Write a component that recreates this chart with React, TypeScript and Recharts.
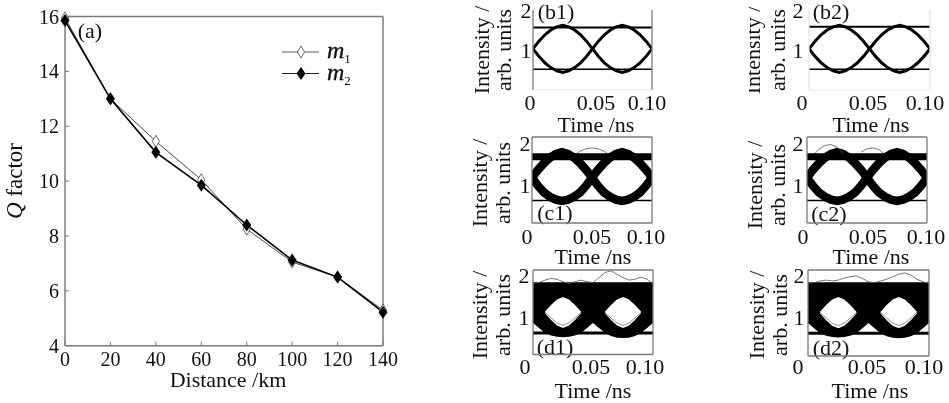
import { ComposedChart, LineChart, Line, Area, XAxis, YAxis, Legend, ReferenceLine } from 'recharts'

const SERIF = '"Liberation Serif", "Times New Roman", serif'
const INK = '#111'
const FRAME = '#7a7a7a'

// panel (a): Q factor against distance
const DISTANCE = [0, 20, 40, 60, 80, 100, 120, 140]
const M1 = [15.95, 13.0, 11.45, 10.05, 8.25, 7.05, 6.5, 5.3]
const M2 = [15.85, 13.0, 11.05, 9.85, 8.4, 7.12, 6.5, 5.22]
const Q_TICKS = [4, 6, 8, 10, 12, 14, 16]

// eye diagrams, all sampled on this time grid
const TIME = [0, 0.005, 0.01, 0.015, 0.02, 0.025, 0.03, 0.035, 0.04, 0.045, 0.05, 0.055, 0.06, 0.065, 0.07, 0.075, 0.08, 0.085, 0.09, 0.095, 0.1]
const TIME_TICKS = [0, 0.05, 0.1]
const TIME_LABELS = ['0', '0.05', '0.10']

const B_UPPER = [1.03, 1.22, 1.38, 1.5, 1.58, 1.62, 1.58, 1.5, 1.38, 1.22, 1.03, 1.22, 1.38, 1.5, 1.58, 1.62, 1.58, 1.5, 1.38, 1.22, 1.03]
const B_LOWER = [1.03, 0.84, 0.68, 0.56, 0.48, 0.44, 0.48, 0.56, 0.68, 0.84, 1.03, 0.84, 0.68, 0.56, 0.48, 0.44, 0.48, 0.56, 0.68, 0.84, 1.03]

const C_UPPER = [1.17, 1.36, 1.52, 1.65, 1.74, 1.78, 1.74, 1.65, 1.52, 1.36, 1.17, 1.36, 1.52, 1.65, 1.74, 1.78, 1.74, 1.65, 1.52, 1.36, 1.17]
const C_LOWER = [1.17, 0.98, 0.82, 0.72, 0.65, 0.62, 0.65, 0.72, 0.82, 0.98, 1.17, 0.98, 0.82, 0.72, 0.65, 0.62, 0.65, 0.72, 0.82, 0.98, 1.17]
const C1_STRAY = [null, null, null, null, null, null, null, 1.7, 1.8, 1.86, 1.88, 1.86, 1.8, 1.7, null, null, null, null, null, null, null]
const C2_STRAY = [null, 1.7, 1.85, 1.94, 1.96, 1.9, 1.75, null, null, 1.78, 1.86, 1.88, 1.84, 1.72, null, null, null, null, null, null, null]

const D_TOP = [1.83, 1.83, 1.83, 1.83, 1.83, 1.83, 1.83, 1.83, 1.83, 1.83, 1.83, 1.83, 1.83, 1.83, 1.83, 1.83, 1.83, 1.83, 1.83, 1.83, 1.83]
const D_BOTTOM = [0.86, 0.74, 0.62, 0.56, 0.53, 0.52, 0.53, 0.56, 0.62, 0.74, 0.86, 0.74, 0.62, 0.55, 0.51, 0.5, 0.51, 0.55, 0.62, 0.74, 0.86]
const HOLE_TOP = [null, null, 1.13, 1.29, 1.42, 1.48, 1.42, 1.29, 1.13, null, null, null, 1.13, 1.29, 1.42, 1.48, 1.42, 1.29, 1.13, null, null]
const HOLE_BOTTOM = [null, null, 1.09, 0.93, 0.8, 0.74, 0.8, 0.93, 1.09, null, null, null, 1.09, 0.93, 0.8, 0.74, 0.8, 0.93, 1.09, null, null]
const HOLE_TRACE = [null, null, 1.11, 0.98, 0.86, 0.8, 0.86, 0.98, 1.11, null, null, null, 1.11, 0.98, 0.86, 0.8, 0.86, 0.98, 1.11, null, null]
const D1_STRAY = [1.8, 1.82, 1.88, 1.92, 1.9, 1.84, 1.8, 1.84, 1.88, 1.84, 1.82, 1.94, 2.06, 2.1, 2.02, 1.94, 1.88, 1.9, 1.95, 1.9, 1.8]
const D2_STRAY = [1.8, 1.82, 1.86, 1.88, 1.86, 1.88, 1.93, 1.96, 1.98, 1.92, 1.84, 1.82, 1.86, 1.9, 1.96, 2.02, 2.05, 2.0, 1.9, 1.84, 1.8]

type Box = { x: number; y: number; w: number; h: number }
type Eye = {
  tag: string
  plot: Box
  domain: number[]
  upper?: (number | null)[]
  lower?: (number | null)[]
  trace: number
  rails: number[][]
  stray?: (number | null)[]
  filled?: boolean
  sideColor: string
  bottomColor: string
  topColor?: string
  tagAt: number[]
  tickDx: number[]
  tickY: number
  yTickX: number
  titleAt: number[]
  yTextX: number[]
  yTextMid: number
}

const PANELS: Eye[] = [
  { tag: '(b1)', plot: { x: 533, y: 10, w: 119, h: 80 }, domain: [0, 2], upper: B_UPPER, lower: B_LOWER, trace: 3, rails: [[1.56, 2], [0.52, 1.6]], sideColor: FRAME, bottomColor: '#eeeeee', tagAt: [556, 12], tickDx: [-3, 3.5, -5], tickY: 103, yTickX: 526, titleAt: [596, 125], yTextX: [482, 504], yTextMid: 50 },
  { tag: '(b2)', plot: { x: 809, y: 10, w: 121, h: 80 }, domain: [0, 2], upper: B_UPPER, lower: B_LOWER, trace: 3, rails: [[1.58, 2], [0.52, 1.6]], sideColor: '#e4e4e4', bottomColor: '#f2f2f2', tagAt: [831, 12], tickDx: [-7, -1.5, -5], tickY: 103, yTickX: 798, titleAt: [871, 125], yTextX: [753, 778], yTextMid: 50 },
  { tag: '(c1)', plot: { x: 532, y: 137, w: 120, h: 86 }, domain: [0.095, 2.14], upper: C_UPPER, lower: C_LOWER, trace: 8.5, rails: [[1.67, 7], [0.63, 1.6]], stray: C1_STRAY, sideColor: FRAME, bottomColor: FRAME, topColor: FRAME, tagAt: [555, 213], tickDx: [-5, 0, -6], tickY: 237, yTickX: 525, titleAt: [593, 257], yTextX: [480, 503], yTextMid: 183 },
  { tag: '(c2)', plot: { x: 807, y: 137, w: 120, h: 86 }, domain: [0.095, 2.14], upper: C_UPPER, lower: C_LOWER, trace: 8.5, rails: [[1.67, 7], [0.63, 1.6]], stray: C2_STRAY, sideColor: FRAME, bottomColor: FRAME, topColor: FRAME, tagAt: [829, 214], tickDx: [-4, 1, -1], tickY: 237, yTickX: 798, titleAt: [871, 257], yTextX: [755, 778], yTextMid: 185 },
  { tag: '(d1)', plot: { x: 533, y: 270, w: 120, h: 84.5 }, domain: [0.11, 2.12], trace: 1, rails: [[0.62, 3]], stray: D1_STRAY, filled: true, sideColor: FRAME, bottomColor: FRAME, topColor: FRAME, tagAt: [555, 347], tickDx: [-8, -2, -8], tickY: 367, yTickX: 524, titleAt: [593, 391], yTextX: [480, 503], yTextMid: 315 },
  { tag: '(d2)', plot: { x: 808, y: 270, w: 121, h: 86 }, domain: [0.08, 2.12], trace: 1, rails: [[0.62, 3]], stray: D2_STRAY, filled: true, sideColor: FRAME, bottomColor: FRAME, topColor: FRAME, tagAt: [831, 348], tickDx: [-10, -1.5, -5], tickY: 367, yTickX: 799, titleAt: [870, 391], yTextX: [757, 780], yTextMid: 315 },
]

const qData = DISTANCE.map((d, i) => ({ d, m1: M1[i], m2: M2[i] }))

function hollowDiamond(p: any) {
  const { cx, cy } = p
  return <path key={p.index} d={`M${cx} ${cy - 6}L${cx + 3.6} ${cy}L${cx} ${cy + 6}L${cx - 3.6} ${cy}Z`} fill="#fff" stroke="#444" strokeWidth={0.8} />
}

function solidDiamond(p: any) {
  const { cx, cy } = p
  return <path key={p.index} d={`M${cx} ${cy - 6.5}L${cx + 4.5} ${cy}L${cx} ${cy + 6.5}L${cx - 4.5} ${cy}Z`} fill="#000" />
}

function QLegend() {
  const rows = [
    { sub: '1', marker: hollowDiamond, line: '#333', lw: 0.8 },
    { sub: '2', marker: solidDiamond, line: '#222', lw: 1.2 },
  ]
  return (
    <svg width={90} height={50} style={{ display: 'block' }}>
      {rows.map((r, i) => (
        <g key={r.sub}>
          <line x1={2} x2={39} y1={11 + i * 21.5} y2={11 + i * 21.5} stroke={r.line} strokeWidth={r.lw} />
          {r.marker({ cx: 21, cy: 11 + i * 21.5, index: i })}
          <text x={47} y={17 + i * 21.5} fontFamily={SERIF} fontSize={24} fontStyle="italic" fill={INK} stroke={INK} strokeWidth={0.35}>
            m<tspan fontSize={13} fontStyle="normal" strokeWidth={0} dy={5}>{r.sub}</tspan>
          </text>
        </g>
      ))}
    </svg>
  )
}

function QChart() {
  return (
    <div style={{ position: 'absolute', left: 0, top: 0 }}>
      <LineChart width={400} height={403} data={qData} margin={{ top: 16.5, right: 17, bottom: 0, left: 0 }}>
        <XAxis
          dataKey="d" type="number" domain={[0, 140]} ticks={DISTANCE} height={57.3}
          axisLine={{ stroke: FRAME, strokeWidth: 1.5 }} tickLine={{ stroke: FRAME }} tickSize={-4} tickMargin={10}
          tick={{ fill: INK, fontSize: 20, fontFamily: SERIF }} interval={0}
          label={{ value: 'Distance /km', position: 'insideBottom', offset: 16, fill: INK, fontSize: 22, fontFamily: SERIF, dx: 4 }}
        />
        <YAxis
          type="number" domain={[4, 16]} ticks={Q_TICKS} width={65} interval={0}
          axisLine={{ stroke: FRAME, strokeWidth: 1.5 }} tickLine={{ stroke: FRAME }} tickSize={-4} tickMargin={10}
          tick={{ fill: INK, fontSize: 20, fontFamily: SERIF }}
        />
        <ReferenceLine y={16} stroke={FRAME} strokeWidth={1.5} />
        <ReferenceLine x={140} stroke={FRAME} strokeWidth={1.5} />
        <Line dataKey="m1" name="m1" stroke="#333" strokeWidth={0.9} dot={hollowDiamond} isAnimationActive={false} />
        <Line dataKey="m2" name="m2" stroke="#000" strokeWidth={1.6} dot={solidDiamond} isAnimationActive={false} />
        <Legend verticalAlign="middle" content={QLegend} wrapperStyle={{ left: 280, top: 41, width: 90 }} />
        <text x={90} y={38} textAnchor="middle" fontFamily={SERIF} fontSize={22} fill={INK}>(a)</text>
        <text x={0} y={0} transform="translate(22 181) rotate(-90)" textAnchor="middle" fontFamily={SERIF} fontSize={23} fill={INK}>
          <tspan fontStyle="italic">Q</tspan> factor
        </text>
      </LineChart>
    </div>
  )
}

function EyePanel({ p }: { p: Eye }) {
  const { plot } = p
  const left = plot.x - 60
  const top = plot.y - 10
  const data = TIME.map((t, i) => ({
    t,
    upper: p.upper ? p.upper[i] : null,
    lower: p.lower ? p.lower[i] : null,
    stray: p.stray ? p.stray[i] : null,
    band: [D_BOTTOM[i], D_TOP[i]],
    hole: HOLE_TOP[i] === null ? null : [HOLE_BOTTOM[i], HOLE_TOP[i]],
    holeTrace: HOLE_TRACE[i],
  }))
  const xTick = ({ x, index }: any) => (
    <text key={index} x={x + p.tickDx[index]} y={p.tickY - top + 7} textAnchor="middle" fontFamily={SERIF} fontSize={22} fill={INK}>
      {TIME_LABELS[index]}
    </text>
  )
  const yTick = ({ y, payload }: any) => (
    <text key={payload.value} x={p.yTickX - left} y={y + 8} textAnchor="middle" fontFamily={SERIF} fontSize={22} fill={INK}>
      {payload.value}
    </text>
  )
  const textProps = { fontFamily: SERIF, fontSize: 22, fill: INK, textAnchor: 'middle' as const }
  return (
    <div style={{ position: 'absolute', left, top }}>
      <ComposedChart width={plot.w + 80} height={plot.h + 60} data={data} margin={{ top: 10, right: 20, bottom: 0, left: 0 }}>
        <XAxis dataKey="t" type="number" domain={[0, 0.1]} ticks={TIME_TICKS} height={50} interval={0} allowDataOverflow axisLine={false} tickLine={false} tick={xTick} />
        <YAxis type="number" domain={p.domain} ticks={[1, 2]} width={60} interval={0} allowDataOverflow axisLine={false} tickLine={false} tick={yTick} />
        {p.filled && <Area dataKey="band" fill="#000" fillOpacity={1} stroke="none" dot={false} isAnimationActive={false} />}
        {p.filled && <Area dataKey="hole" fill="#fff" fillOpacity={1} stroke="none" dot={false} isAnimationActive={false} />}
        {p.filled && <Line dataKey="holeTrace" stroke="#777" strokeWidth={0.8} dot={false} isAnimationActive={false} />}
        {p.upper && <Line dataKey="upper" stroke="#000" strokeWidth={p.trace} dot={false} isAnimationActive={false} />}
        {p.lower && <Line dataKey="lower" stroke="#000" strokeWidth={p.trace} dot={false} isAnimationActive={false} />}
        {p.stray && <Line dataKey="stray" stroke="#555" strokeWidth={0.8} dot={false} isAnimationActive={false} />}
        {p.rails.map(([v, w]) => <ReferenceLine key={v} y={v} stroke="#000" strokeWidth={w} />)}
        <ReferenceLine x={0} stroke={p.sideColor} strokeWidth={1.3} />
        <ReferenceLine x={0.1} stroke={p.sideColor} strokeWidth={1.3} />
        <ReferenceLine y={p.domain[0]} stroke={p.bottomColor} strokeWidth={1.3} />
        {p.topColor && <ReferenceLine y={p.domain[1]} stroke={p.topColor} strokeWidth={1.3} />}
        <text {...textProps} x={p.tagAt[0] - left} y={p.tagAt[1] - top + 7}>{p.tag}</text>
        <text {...textProps} x={p.titleAt[0] - left} y={p.titleAt[1] - top + 7}>Time /ns</text>
        <text {...textProps} transform={`translate(${p.yTextX[0] - left + 7} ${p.yTextMid - top}) rotate(-90)`}>Intensity /</text>
        <text {...textProps} transform={`translate(${p.yTextX[1] - left + 7} ${p.yTextMid - top}) rotate(-90)`}>arb. units</text>
      </ComposedChart>
    </div>
  )
}

export default function App() {
  return (
    <div style={{ position: 'absolute', left: 0, top: 0, width: 949, height: 403, background: '#fff', overflow: 'hidden', filter: 'blur(0.4px)' }}>
      <QChart />
      {PANELS.map(p => <EyePanel key={p.tag} p={p} />)}
    </div>
  )
}
